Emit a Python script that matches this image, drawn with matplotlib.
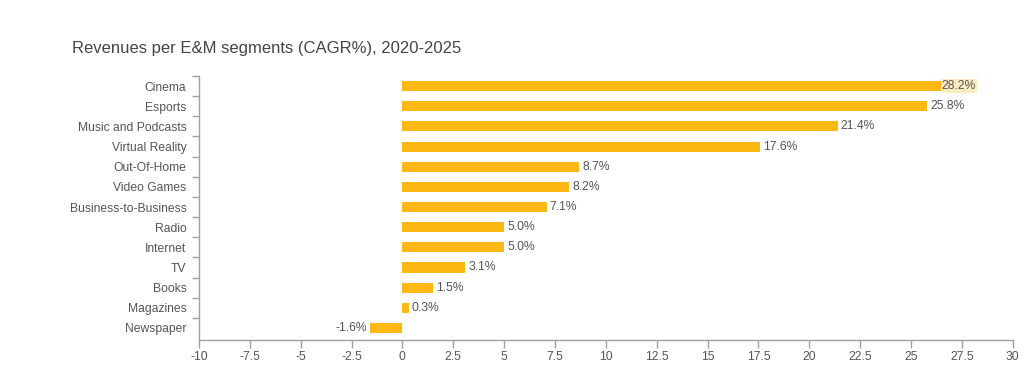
import matplotlib
matplotlib.use("Agg")
import matplotlib.pyplot as plt
import numpy as np

plt.rcParams['font.family'] = ['Liberation Sans', 'DejaVu Sans']

# Data
segments = ["Cinema", "Esports", "Music and Podcasts", "Virtual Reality", "Out-Of-Home",
            "Video Games", "Business-to-Business", "Radio", "Internet", "TV", "Books",
            "Magazines", "Newspaper"]
cagr = [28.2, 25.8, 21.4, 17.6, 8.7, 8.2, 7.1, 5.0, 5.0, 3.1, 1.5, 0.3, -1.6]
xticks = [-10, -7.5, -5, -2.5, 0, 2.5, 5, 7.5, 10, 12.5, 15, 17.5, 20, 22.5, 25, 27.5, 30]

bar_color = "#FDB813"
text_color = "#555555"
axis_color = "#A0A0A0"
fs = 8.7

fig = plt.figure(figsize=(10.24, 3.87), dpi=100)
ax = fig.add_axes([0.1943, 0.1214, 0.7947, 0.6822])

pos = np.arange(len(segments))
ax.barh(pos, cagr, height=0.5, color=bar_color, zorder=2)

ax.set_xlim(-10, 30)
ax.set_ylim(12.6, -0.5)

ax.set_yticks(pos)
ax.set_yticklabels(segments, fontsize=fs, color=text_color)
ax.tick_params(axis='y', which='major', length=0, pad=9)
ax.set_yticks(np.arange(len(segments)) - 0.5, minor=True)
ax.tick_params(axis='y', which='minor', length=5, color=axis_color, width=1)

ax.set_xticks(xticks)
ax.set_xticklabels([("%g" % t) for t in xticks], fontsize=fs, color=text_color)
ax.tick_params(axis='x', length=6, color=axis_color, width=1, pad=2)

for s in ["top", "right"]:
    ax.spines[s].set_visible(False)
for s in ["left", "bottom"]:
    ax.spines[s].set_color(axis_color)
    ax.spines[s].set_linewidth(1)

# value labels
for i, v in enumerate(cagr):
    lbl = "%.1f%%" % v
    if i == 0:
        ax.text(v, i, lbl, ha='right', va='center', fontsize=fs, color=text_color,
                bbox=dict(boxstyle='square,pad=0.1', facecolor='#FDEBC0', edgecolor='none'),
                zorder=3)
    elif v >= 0:
        ax.text(v + 0.15, i, lbl, ha='left', va='center', fontsize=fs, color=text_color)
    else:
        ax.text(v - 0.15, i, lbl, ha='right', va='center', fontsize=fs, color=text_color)

fig.text(72 / 1024, 1 - 48 / 387, "Revenues per E&M segments (CAGR%), 2020-2025",
         fontsize=12, color="#444444", va='center', ha='left')

fig.savefig("out.png", dpi=100)
